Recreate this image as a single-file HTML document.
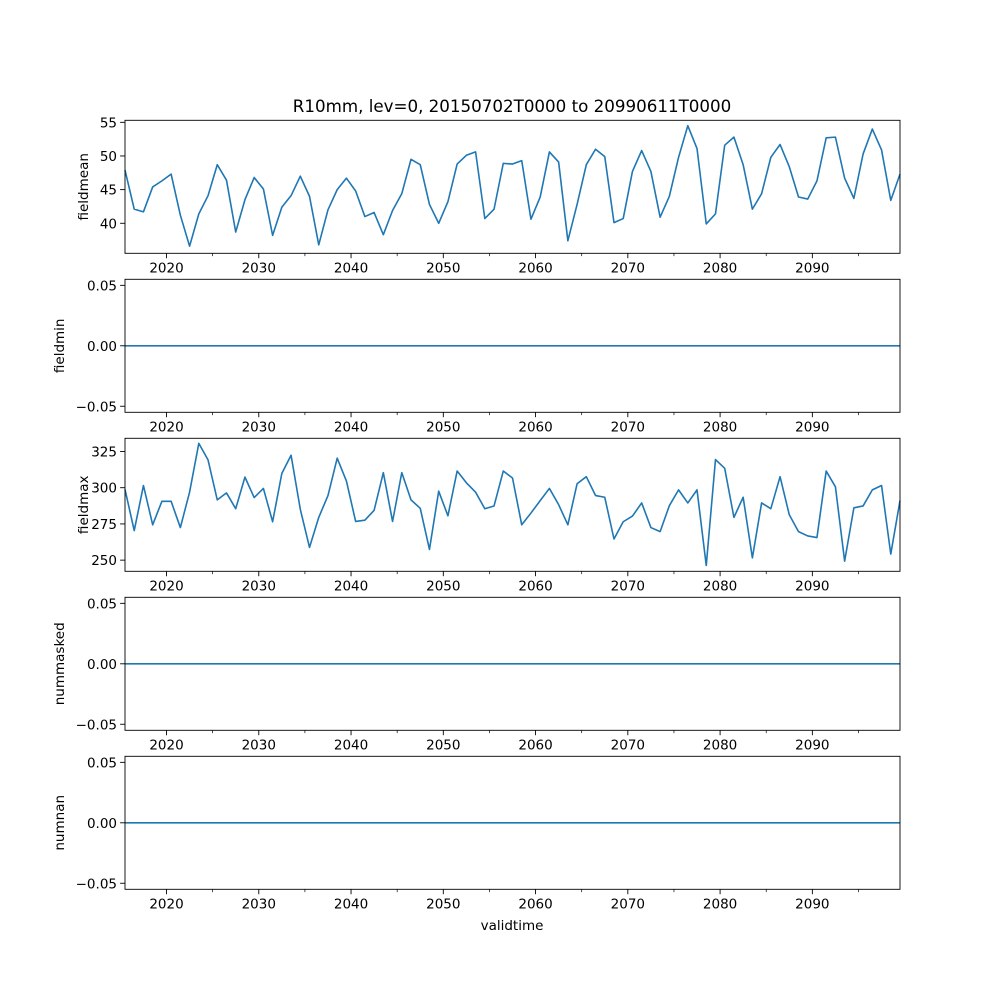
<!DOCTYPE html>
<html><head><meta charset="utf-8"><style>
body{margin:0;background:#fff}
svg{display:block;font-family:"DejaVu Sans","Liberation Sans",sans-serif}
</style></head><body>
<svg id="fig" width="1000" height="1000" viewBox="0 0 1000 1000">
<text x="512" y="112" text-anchor="middle" font-size="16.7">R10mm, lev=0, 20150702T0000 to 20990611T0000</text>
<text x="512" y="930" text-anchor="middle" font-size="13.5">validtime</text>
</svg>
<script>
const startYear = 2015.5;
const fieldmean = [47.9,42.1,41.7,45.4,46.3,47.3,41.2,36.6,41.4,44.1,48.7,46.4,38.7,43.5,46.8,45.1,38.2,42.4,44.1,47.0,44.0,36.8,42.0,45.0,46.7,44.8,41.0,41.6,38.3,41.9,44.4,49.5,48.7,42.8,40.0,43.2,48.8,50.1,50.6,40.7,42.1,48.9,48.8,49.3,40.6,43.9,50.6,49.1,37.4,42.8,48.7,51.0,49.9,40.1,40.7,47.7,50.8,47.7,40.9,44.0,49.8,54.5,51.1,39.9,41.4,51.6,52.8,48.7,42.1,44.4,49.8,51.7,48.4,43.9,43.6,46.3,52.7,52.8,46.7,43.7,50.3,54.0,50.9,43.4,47.3];
const fieldmax = [298.8,270.4,301.5,274.4,290.6,290.6,272.5,296.9,330.6,319.2,291.6,296.4,285.5,307.3,293.2,299.5,276.5,309.9,322.4,285.1,258.8,279.5,294.6,320.4,304.6,276.7,277.6,284.4,310.4,276.7,310.4,291.6,285.8,257.4,297.6,280.6,311.5,303.4,296.9,285.5,287.4,311.5,306.7,274.4,282.5,291.1,299.5,288.3,274.4,302.7,307.6,294.6,293.4,264.6,276.5,280.4,289.5,272.5,269.7,287.6,298.5,289.5,298.5,246.3,319.4,313.4,279.5,293.4,251.6,289.5,285.5,307.6,281.3,269.7,266.7,265.6,311.5,300.6,249.3,286.1,287.4,298.5,301.5,254.2,291.1];
const fieldmin = fieldmean.map(()=>0);
const nummasked = fieldmean.map(()=>0);
const numnan = fieldmean.map(()=>0);
const xTicks = [2020,2030,2040,2050,2060,2070,2080,2090];
const xMinor = [2025,2035,2045,2055,2065,2075,2085,2095];
const zeroTicks = ["0.05","0.00","−0.05"];
const zeroTickVals = [0.05,0,-0.05];
const panels = [
 {name:"fieldmean", data:fieldmean, ymin:35.54, ymax:55.3, ticks:[40,45,50,55], labels:["40","45","50","55"]},
 {name:"fieldmin", data:fieldmin, ymin:-0.055, ymax:0.055, ticks:zeroTickVals, labels:zeroTicks},
 {name:"fieldmax", data:fieldmax, ymin:242.3, ymax:334.1, ticks:[250,275,300,325], labels:["250","275","300","325"]},
 {name:"nummasked", data:nummasked, ymin:-0.055, ymax:0.055, ticks:zeroTickVals, labels:zeroTicks},
 {name:"numnan", data:numnan, ymin:-0.055, ymax:0.055, ticks:zeroTickVals, labels:zeroTicks}
];
const NS="http://www.w3.org/2000/svg";
const svg=document.getElementById('fig');
const L=125,R=900,H=133,xmin=2015.5,xmax=2099.5;
const xs=v=>L+(v-xmin)/(xmax-xmin)*(R-L);
function mk(tag,attrs,parent){const e=document.createElementNS(NS,tag);for(const k in attrs)e.setAttribute(k,attrs[k]);(parent||svg).appendChild(e);return e;}
panels.forEach((p,pi)=>{
 const top=120.3+pi*159, bot=top+H;
 const g=mk('g',{});
 
 
 const ys=v=>bot-(v-p.ymin)/(p.ymax-p.ymin)*H;
 const pts=p.data.map((v,i)=>xs(startYear+i).toFixed(2)+','+ys(v).toFixed(2)).join(' ');
 const line=mk('polyline',{points:pts,fill:'none',stroke:'#1f77b4','stroke-width':1.6,'stroke-linejoin':'round'},g);
 
 
 const frame=mk('rect',{x:L,y:top,width:R-L,height:H,fill:'none',stroke:'#000','stroke-width':0.9},g);
 
 
 p.ticks.forEach((t,ti)=>{
  const y=ys(t);
  mk('line',{x1:L-4.9,x2:L,y1:y,y2:y,stroke:'#000','stroke-width':0.9},g);
  const tx=mk('text',{x:L-8,y:y+5,'text-anchor':'end','font-size':13.5},g);
  tx.textContent=p.labels[ti];
  
  
 });
 xTicks.forEach(t=>{
  const x=xs(t);
  mk('line',{x1:x,x2:x,y1:bot,y2:bot+4.9,stroke:'#000','stroke-width':0.9},g);
  const tx=mk('text',{x:x,y:bot+19,'text-anchor':'middle','font-size':13.5},g);
  tx.textContent=String(t);
  
  
 });
 xMinor.forEach(t=>{const x=xs(t);mk('line',{x1:x,x2:x,y1:bot,y2:bot+2.8,stroke:'#000','stroke-width':0.7},g);});
 const cy=(top+bot)/2;
 const yl=mk('text',{x:0,y:0,'text-anchor':'middle','font-size':13.5,transform:`translate(${pi===0||pi===2?88:64},${cy}) rotate(-90)`},g);
 yl.textContent=p.name;
 
 
});
</script>
</body></html>
